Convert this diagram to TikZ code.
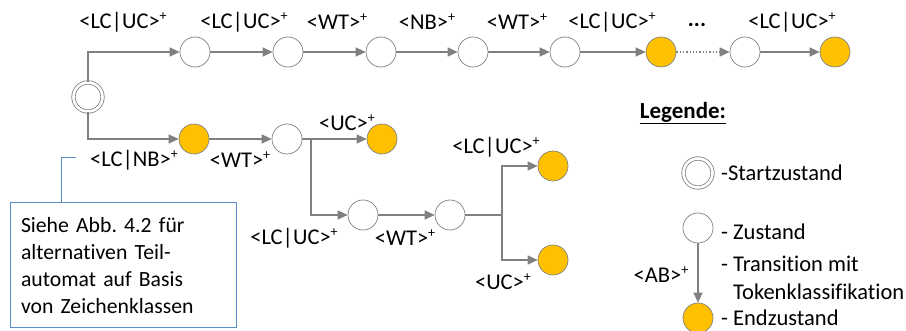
\documentclass[tikz,border=0pt]{standalone}
\usepackage{fontspec}
\setmainfont{Carlito}[Ligatures=NoCommon]
\usetikzlibrary{arrows.meta}
\frenchspacing
\definecolor{edgegray}{HTML}{808080}
\definecolor{endorange}{HTML}{FFC000}
\definecolor{noteblue}{HTML}{5B8CC8}
\tikzset{zst/.style={circle, draw=edgegray, fill=white, minimum size=30pt, inner sep=0pt, line width=0.7pt}}
\tikzset{zstEnd/.style={zst, fill=endorange}}
\tikzset{zstStart/.style={circle, draw=edgegray, double, double distance=2.6pt, minimum size=29pt, inner sep=0pt, line width=0.8pt}}
\tikzset{edge/.style={draw=edgegray, line width=1.3pt}}
\tikzset{trans/.style={edge, -{Triangle[length=10pt,width=9pt]}}}
\tikzset{lbl/.style={font=\fontsize{22.5}{24}\selectfont, inner sep=0pt}}
\tikzset{legtext/.style={font=\fontsize{22.5}{24}\selectfont, inner sep=0pt, anchor=west}}
\tikzset{notebox/.style={draw=noteblue, line width=1pt, minimum width=226pt, minimum height=125pt, text width=204pt, align=left, font=\fontsize{21.7}{27}\selectfont}}
\newcommand{\tok}[1]{<#1>\raisebox{0.36em}{\fontsize{14}{14}\selectfont +}}

\begin{document}
\begin{tikzpicture}[x=1pt, y=-1pt]
\useasboundingbox (0,0) rectangle (906,331);

\node[zstStart] (s0) at (88, 97) {};

\node[zst] (a1) at (195, 52) {};
\node[zst] (a2) at (288, 52) {};
\node[zst] (a3) at (381, 52) {};
\node[zst] (a4) at (473, 52) {};
\node[zst] (a5) at (565, 52) {};
\node[zstEnd] (a6) at (661, 52) {};
\node[zst] (a7) at (745, 52) {};
\node[zstEnd] (a8) at (835, 52) {};

\node[zstEnd] (b1) at (194, 139) {};
\node[zst] (b2) at (287, 139) {};
\node[zstEnd] (b3) at (382, 139) {};
\coordinate (j1) at (311, 139);

\node[zst] (c1) at (363, 215) {};
\node[zst] (c2) at (450, 215) {};
\coordinate (j2) at (502, 215);
\node[zstEnd] (d1) at (553, 166) {};
\node[zstEnd] (d2) at (553, 260) {};

\draw[trans] (s0.north) |- (a1);
\draw[trans] (a1) -- (a2);
\draw[trans] (a2) -- (a3);
\draw[trans] (a3) -- (a4);
\draw[trans] (a4) -- (a5);
\draw[trans] (a5) -- (a6);
\draw[trans, dotted] (a6) -- (a7);
\draw[trans] (a7) -- (a8);

\draw[trans] (s0.south) |- (b1);
\draw[trans] (b1) -- (b2);
\draw[edge] (b2) -- (j1);
\draw[trans] (j1) -- (b3);
\draw[trans] (j1) |- (c1);
\draw[trans] (c1) -- (c2);
\draw[edge] (c2) -- (j2);
\draw[trans] (j2) |- (d1);
\draw[trans] (j2) |- (d2);

\node[lbl] (l1) at (123, 22) {\tok{LC|UC}};
\node[lbl] (l2) at (244, 22) {\tok{LC|UC}};
\node[lbl] (l3) at (337, 22) {\tok{WT}};
\node[lbl] (l4) at (427, 22) {\tok{NB}};
\node[lbl] (l5) at (517, 22) {\tok{WT}};
\node[lbl] (l6) at (612, 22) {\tok{LC|UC}};
\node[lbl] (l7) at (697, 25) {\textbf{...}};
\node[lbl] (l8) at (792, 22) {\tok{LC|UC}};

\node[lbl] (l9) at (134, 160) {\tok{LC|NB}};
\node[lbl] (l10) at (240, 160) {\tok{WT}};
\node[lbl] (l11) at (347, 123) {\tok{UC}};
\node[lbl] (l12) at (294, 238) {\tok{LC|UC}};
\node[lbl] (l13) at (405, 238) {\tok{WT}};
\node[lbl] (l14) at (496, 147) {\tok{LC|UC}};
\node[lbl] (l15) at (503, 282) {\tok{UC}};

\node[notebox] (note) at (123, 265.5) {Siehe Abb. 4.2 für\\alternativen Teil-\\automat auf Basis\\von Zeichenklassen};
\coordinate (nt) at (76, 158);
\draw[noteblue, line width=1pt] ([xshift=52pt]note.north west) |- (nt);

\node[font=\fontsize{23}{24}\selectfont, inner sep=0pt] (leg) at (683, 113) {\underline{\textbf{Legende:}}};
\node[zstStart] (ls) at (698, 173) {};
\node[legtext] (lst) at (721, 173) {-Startzustand};
\node[zst] (lz) at (698, 228) {};
\node[legtext] (lzt) at (721, 232) {- Zustand};
\node[zstEnd] (le) at (698, 318) {};
\draw[trans] (lz) -- (le);
\node[lbl] (lab) at (661, 275) {\tok{AB}};
\node[legtext] (ltt) at (721, 264) {- Transition mit};
\node[legtext] (ltk) at (733, 292) {Tokenklassifikation};
\node[legtext] (let) at (721, 318) {- Endzustand};
\end{tikzpicture}
\end{document}
